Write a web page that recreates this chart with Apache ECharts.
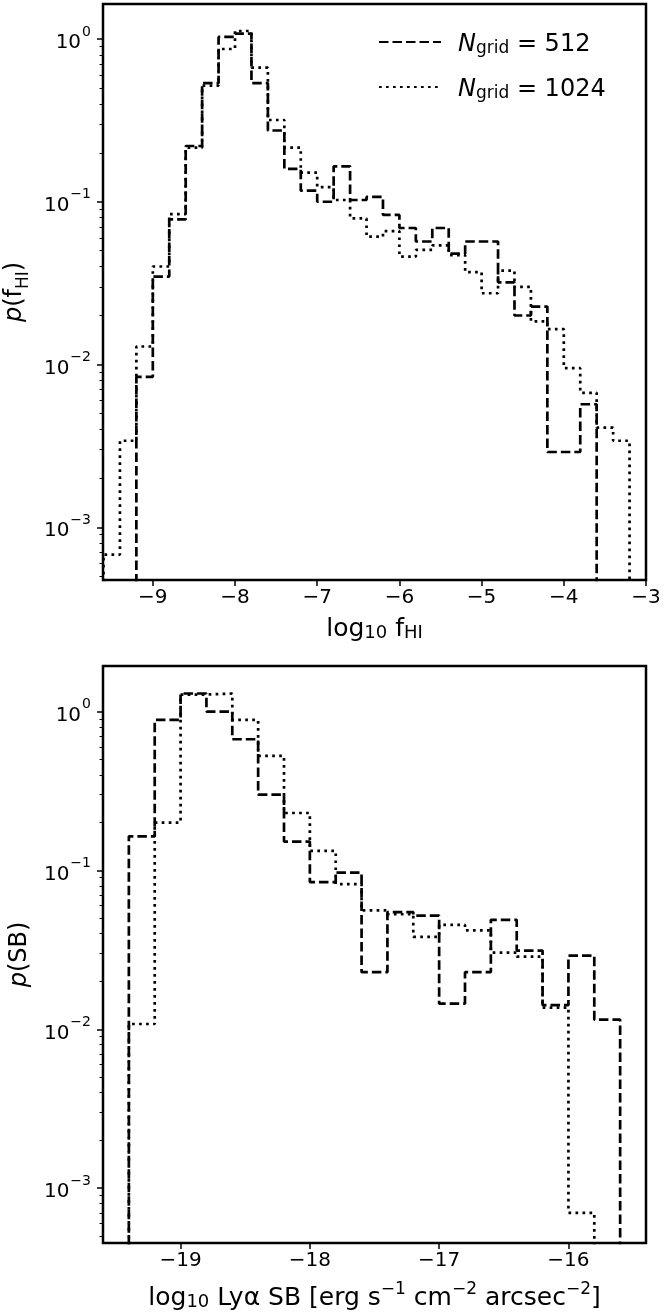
<!DOCTYPE html>
<html><head><meta charset="utf-8">
<script src="https://cdn.jsdelivr.net/npm/echarts@6/dist/echarts.min.js"></script>
<style>html,body{margin:0;padding:0;background:#fff}#c{width:664px;height:1316px}</style>
</head><body><div id="c"></div>
<script>
// ---- data ----
const fhiEdges512 = [-9.2,-9.0,-8.8,-8.6,-8.4,-8.2,-8.0,-7.8,-7.6,-7.4,-7.2,-7.0,-6.8,-6.6,-6.4,-6.2,-6.0,-5.8,-5.6,-5.4,-5.2,-5.0,-4.8,-4.6,-4.4,-4.2,-4.0,-3.8,-3.6];
const fhiVals512  = [0.0084,0.0347,0.078,0.22,0.535,1.03,1.08,0.535,0.274,0.159,0.117,0.100,0.165,0.1025,0.107,0.083,0.069,0.057,0.069,0.048,0.057,0.057,0.032,0.020,0.0227,0.0029,0.0029,0.0057];
const fhiEdges1024 = [-9.6,-9.4,-9.2,-9.0,-8.8,-8.6,-8.4,-8.2,-8.0,-7.8,-7.6,-7.4,-7.2,-7.0,-6.8,-6.6,-6.4,-6.2,-6.0,-5.8,-5.6,-5.4,-5.2,-5.0,-4.8,-4.6,-4.4,-4.2,-4.0,-3.8,-3.6,-3.4,-3.2];
const fhiVals1024  = [0.00068,0.0034,0.0129,0.040,0.084,0.215,0.517,0.868,1.12,0.667,0.318,0.215,0.151,0.123,0.1025,0.079,0.061,0.066,0.046,0.0506,0.054,0.047,0.037,0.0274,0.0377,0.030,0.0184,0.0165,0.0095,0.0067,0.0041,0.0034];

const sbEdges512 = [-19.4,-19.2,-19.0,-18.8,-18.6,-18.4,-18.2,-18.0,-17.8,-17.6,-17.4,-17.2,-17.0,-16.8,-16.6,-16.4,-16.2,-16.0,-15.8,-15.6];
const sbVals512  = [0.164,0.887,1.30,1.0,0.67,0.30,0.152,0.0845,0.097,0.0229,0.0547,0.052,0.0145,0.0229,0.0489,0.0313,0.0142,0.0291,0.0115];
const sbEdges1024 = [-19.4,-19.2,-19.0,-18.8,-18.6,-18.4,-18.2,-18.0,-17.8,-17.6,-17.4,-17.2,-17.0,-16.8,-16.6,-16.4,-16.2,-16.0,-15.8];
const sbVals1024  = [0.0108,0.20,1.28,1.30,0.887,0.526,0.23,0.133,0.082,0.056,0.053,0.0382,0.0454,0.042,0.0304,0.0287,0.0137,0.0007];

const fhiTicks = [-9,-8,-7,-6,-5,-4,-3];
const sbTicks = [-19,-18,-17,-16];
const yTicks = [1e-3,1e-2,1e-1,1];
const minorMult = [2,3,4,5,6,7,8,9];
const minorDecades = [1e-4,1e-3,1e-2,1e-1,1];
const seriesNames = ['n512','n1024'];
const seriesLabels = {n512:'512', n1024:'1024'};

// ---- helpers ----
const FLOOR = 1e-6;
function stepPoints(edges, vals){
  const pts=[[edges[0],FLOOR]];
  for(let i=0;i<vals.length;i++){pts.push([edges[i],vals[i]]);pts.push([edges[i+1],vals[i]]);}
  pts.push([edges[edges.length-1],FLOOR]);
  return pts;
}
const yMin = Math.pow(10,-3.324), yMax = Math.pow(10,0.215);
const yMin2 = Math.pow(10,-3.345), yMax2 = Math.pow(10,0.287);
function minorList(lo,hi){
  const out=[];
  minorDecades.forEach(d=>minorMult.forEach(m=>{const v=d*m; if(v>lo&&v<hi) out.push(v);}));
  return out;
}
const FONT='DejaVu Sans';
const minus = s => String(s).replace('-', '\u2212');
const yLabelRich = {
  b:{fontFamily:FONT,fontSize:20,color:'#000',lineHeight:28,verticalAlign:'bottom'},
  e:{fontFamily:FONT,fontSize:14,color:'#000',lineHeight:28,verticalAlign:'top',padding:[0,0,0,1]}
};
function yFmt(v){const e=Math.round(Math.log10(v));return '{b|10}{e|'+minus(e)+'}';}

function majorY(gridIndex,lo,hi,name){
  return {type:'log',logBase:10,gridIndex,min:lo,max:hi,position:'left',
    axisLine:{show:false},splitLine:{show:false},
    axisTick:{show:true,inside:false,length:6,lineStyle:{color:'#000',width:1.5},customValues:yTicks},
    axisLabel:{show:true,margin:12,customValues:yTicks,formatter:yFmt,rich:yLabelRich},
    name:name,nameLocation:'middle',nameGap:71,nameRotate:90,
    nameTextStyle:{fontFamily:FONT,fontSize:24,color:'#000',rich:{
      i:{fontFamily:FONT,fontSize:24,fontStyle:'italic',color:'#000'},
      r:{fontFamily:FONT,fontSize:24,color:'#000'},
      s:{fontFamily:FONT,fontSize:17,color:'#000',verticalAlign:'bottom',lineHeight:34}
    }}
  };
}
function minorY(gridIndex,lo,hi){
  return {type:'log',logBase:10,gridIndex,min:lo,max:hi,position:'left',
    axisLine:{show:false},splitLine:{show:false},axisLabel:{show:false},
    axisTick:{show:true,inside:false,length:3.5,lineStyle:{color:'#000',width:1},customValues:minorList(lo,hi)}};
}
function xAxis(gridIndex,lo,hi,ticks,name,gap){
  return {type:'value',gridIndex,min:lo,max:hi,position:'bottom',
    axisLine:{show:false},splitLine:{show:false},
    axisTick:{show:true,inside:false,length:6,lineStyle:{color:'#000',width:1.5},customValues:ticks},
    axisLabel:{show:true,margin:8,customValues:ticks,formatter:v=>minus(v),fontFamily:FONT,fontSize:20,color:'#000'},
    name:name,nameLocation:'middle',nameGap:gap,
    nameTextStyle:{fontFamily:FONT,fontSize:25,color:'#000',rich:{
      r:{fontFamily:FONT,fontSize:25,color:'#000',verticalAlign:'bottom',lineHeight:30},
      s:{fontFamily:FONT,fontSize:18,color:'#000',verticalAlign:'bottom',lineHeight:26},
      p:{fontFamily:FONT,fontSize:17,color:'#000',verticalAlign:'top',lineHeight:30}
    }}
  };
}
const dashed={color:'#000',width:2.7,type:[9.5,4]};
const dotted={color:'#000',width:2.7,type:[2.7,4.3]};
function ser(name,xi,yi,edges,vals,ls){
  return {type:'line',name,xAxisIndex:xi,yAxisIndex:yi,data:stepPoints(edges,vals),
    symbol:'none',showSymbol:false,lineStyle:ls,itemStyle:{color:'#000'},clip:true,silent:true,animation:false};
}

const chart = echarts.init(document.getElementById('c'),null,{renderer:'canvas'});
chart.setOption({
  backgroundColor:'#fff',
  animation:false,
  grid:[
    {left:103,top:4,width:543,height:576,show:true,borderColor:'#000',borderWidth:2.5,backgroundColor:'transparent',containLabel:false,outerBoundsMode:'none'},
    {left:103,top:666,width:543,height:577,show:true,borderColor:'#000',borderWidth:2.5,backgroundColor:'transparent',containLabel:false,outerBoundsMode:'none'}
  ],
  xAxis:[
    xAxis(0,-9.606,-3,fhiTicks,'{r|log}{s|10}{r| f}{s|HI}',32),
    xAxis(1,-19.6,-15.4,sbTicks,'{r|log}{s|10}{r| Ly\u03b1 SB [erg s}{p|\u22121}{r| cm}{p|\u22122}{r| arcsec}{p|\u22122}{r|]}',38)
  ],
  yAxis:[
    majorY(0,yMin,yMax,'{i|p}{r|(f}{s|HI}{r|)}'),
    minorY(0,yMin,yMax),
    majorY(1,yMin2,yMax2,'{i|p}{r|(SB)}'),
    minorY(1,yMin2,yMax2)
  ],
  legend:{show:true,data:seriesNames,orient:'vertical',left:373,top:28,itemWidth:62,itemHeight:14,itemGap:21,
    itemStyle:{color:'rgba(0,0,0,0)',borderColor:'rgba(0,0,0,0)',borderWidth:0,opacity:0},
    formatter:n=>'{i|N}{s|grid}{r| = '+seriesLabels[n]+'}',
    textStyle:{padding:[0,0,0,12],rich:{
      i:{fontFamily:FONT,fontSize:24,fontStyle:'italic',color:'#000',lineHeight:30,verticalAlign:'bottom'},
      s:{fontFamily:FONT,fontSize:17,color:'#000',lineHeight:24,verticalAlign:'bottom'},
      r:{fontFamily:FONT,fontSize:24,color:'#000',lineHeight:30,verticalAlign:'bottom'}
    }},
    selectedMode:false
  },
  series:[
    ser('n512',0,0,fhiEdges512,fhiVals512,dashed),
    ser('n1024',0,0,fhiEdges1024,fhiVals1024,dotted),
    ser('n512',1,2,sbEdges512,sbVals512,dashed),
    ser('n1024',1,2,sbEdges1024,sbVals1024,dotted)
  ]
});
</script></body></html>
